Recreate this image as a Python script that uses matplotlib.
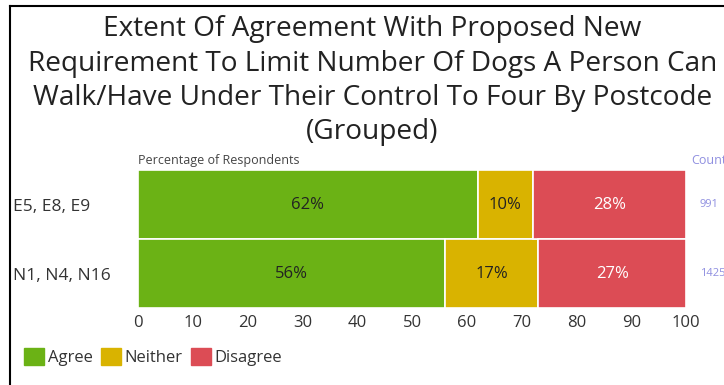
import matplotlib.pyplot as plt
from matplotlib.patches import Patch
from matplotlib.lines import Line2D

groups = ['E5, E8, E9', 'N1, N4, N16']
agree = [62, 56]
neither = [10, 17]
disagree = [28, 27]
counts = ['991', '1425']
series = ['Agree', 'Neither', 'Disagree']
colors = ['#6bb215', '#d9b300', '#dc4c55']

plt.rcParams['font.family'] = ['Open Sans', 'DejaVu Sans']

fig = plt.figure(figsize=(7.24, 3.85), dpi=100)
ax = fig.add_axes([0.1906, 0.2, 0.757, 0.358])

ypos = [1, 0]
left = [0, 0]
for vals, col in zip([agree, neither, disagree], colors):
    bars = ax.barh(ypos, vals, left=left, height=1.0, color=col,
                   edgecolor='white', linewidth=1.2)
    for b, v in zip(bars, vals):
        ax.text(b.get_x() + b.get_width() / 2, b.get_y() + b.get_height() / 2,
                f'{v}%', ha='center', va='center', fontsize=12,
                color='#222222' if col != colors[2] else 'white')
    left = [l + v for l, v in zip(left, vals)]

ax.set_xlim(0, 100)
ax.set_ylim(-0.5, 1.5)
ax.set_xticks(range(0, 101, 10))
ax.tick_params(axis='x', length=0, labelsize=12, labelcolor='#333333', pad=5)
ax.set_yticks(ypos)
ax.set_yticklabels(groups, fontsize=12.5, color='#333333', ha='left')
ax.tick_params(axis='y', length=0, pad=90)
for s in ax.spines.values():
    s.set_visible(False)

ax.text(0, 1.02, 'Percentage of Respondents', transform=ax.transAxes,
        fontsize=9, color='#444444', va='bottom')
ax.text(1.01, 1.02, 'Count', transform=ax.transAxes, fontsize=9,
        color='#8f8fe0', va='bottom', clip_on=False)
for y, c in zip(ypos, counts):
    ax.text(100 + 2.5, y, c, fontsize=8, color='#8f8fe0', va='center')

fig.text(0.514, 0.96, 'Extent Of Agreement With Proposed New\n'
         'Requirement To Limit Number Of Dogs A Person Can\n'
         'Walk/Have Under Their Control To Four By Postcode\n(Grouped)',
         ha='center', va='top', fontsize=20.2, color='#222222', linespacing=1.3)

handles = [Patch(color=c) for c in colors]
fig.legend(handles, series, loc='lower left', bbox_to_anchor=(0.013, 0.01),
           ncol=3, frameon=False, fontsize=12, handlelength=1.2, handleheight=1.2,
           handletextpad=0.2, columnspacing=0.5, labelcolor='#333333')

fig.add_artist(Line2D([0.0138, 0.0138], [0, 0.984], color='black', lw=1.5))
fig.add_artist(Line2D([0.0138, 1], [0.984, 0.984], color='black', lw=1.5))

fig.savefig('out.png')
